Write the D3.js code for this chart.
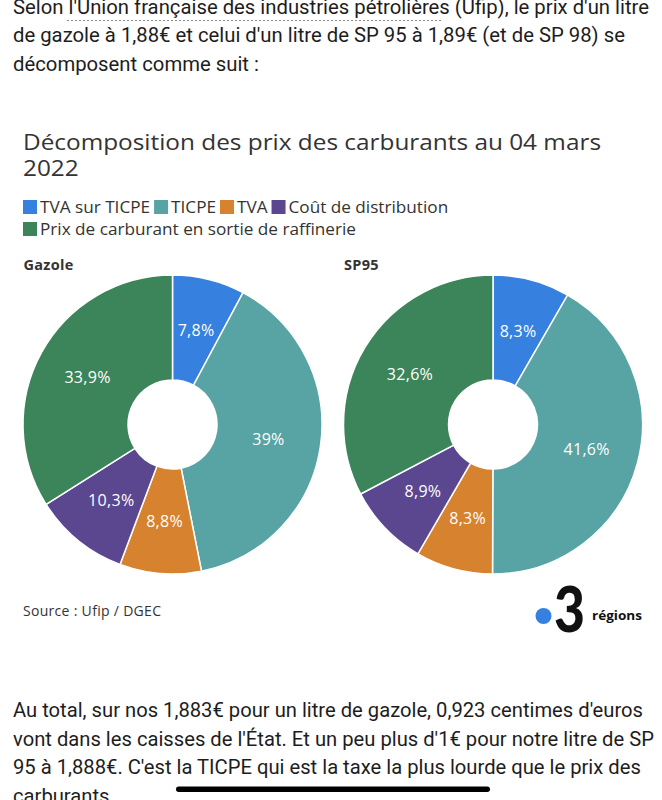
<!DOCTYPE html>
<html>
<head>
<meta charset="utf-8">
<script src="https://cdn.jsdelivr.net/npm/d3@7"></script>
<style>
  html, body { margin: 0; padding: 0; background: #fff; }
  svg { display: block; }
</style>
</head>
<body>
<svg id="chart" width="662" height="800"></svg>
<script>
// ---- Data ----
const categories = ["TVA sur TICPE", "TICPE", "TVA", "Coût de distribution", "Prix de carburant en sortie de raffinerie"];
const colors = ["#3680df", "#58a3a3", "#d6822e", "#5b4690", "#3c8459"];
const chartNames = ["Gazole", "SP95"];
const gazoleValues = [7.8, 39, 8.8, 10.3, 33.9];
const sp95Values = [8.3, 41.6, 8.3, 8.9, 32.6];
const seriesValues = [gazoleValues, sp95Values];

const title1 = "Décomposition des prix des carburants au 04 mars";
const title2 = "2022";
const sourceText = "Source : Ufip / DGEC";
const topLines = [
  "Selon l'Union française des industries pétrolières (Ufip), le prix d'un litre",
  "de gazole à 1,88€ et celui d'un litre de SP 95 à 1,89€ (et de SP 98) se",
  "décomposent comme suit :"
];
const bottomLines = [
  "Au total, sur nos 1,883€ pour un litre de gazole, 0,923 centimes d'euros",
  "vont dans les caisses de l'État. Et un peu plus d'1€ pour notre litre de SP",
  "95 à 1,888€. C'est la TICPE qui est la taxe la plus lourde que le prix des",
  "carburants."
];

// ---- Drawing ----
const svg = d3.select("#chart");
svg.append("rect").attr("width", 662).attr("height", 800).attr("fill", "#fff");

const bodyFont = "Roboto, 'Liberation Sans', Arial, sans-serif";
const chartFont = "'Open Sans', 'Noto Sans', sans-serif";

// article text: same scaling for every line of a paragraph, fitted on its first line
function paragraph(lines, x0, y0, step, firstWidth) {
  const nodes = lines.map((t, i) => svg.append("text").attr("x", x0).attr("y", y0 + i * step)
    .attr("font-family", bodyFont).attr("font-size", 19.5).attr("fill", "#1d1d1d").text(t));
  const k = firstWidth / nodes[0].node().getComputedTextLength();
  nodes.forEach(n => {
    n.attr("textLength", n.node().getComputedTextLength() * k).attr("lengthAdjust", "spacingAndGlyphs");
  });
}
paragraph(topLines, 13, 13.5, 28.7, 636);
svg.append("line").attr("x1", 67).attr("x2", 443).attr("y1", 20.5).attr("y2", 20.5)
  .attr("stroke", "#8a8a8a").attr("stroke-width", 1).attr("stroke-dasharray", "2,2");
paragraph(bottomLines, 13, 717, 28.6, 630);

// title
const t1 = svg.append("text").attr("x", 23).attr("y", 150)
  .attr("font-family", chartFont).attr("font-size", 22.5).attr("fill", "#333")
  .text(title1);
const tk = 578 / t1.node().getComputedTextLength();
t1.attr("textLength", 578).attr("lengthAdjust", "spacingAndGlyphs");
const t2 = svg.append("text").attr("x", 23).attr("y", 175.5)
  .attr("font-family", chartFont).attr("font-size", 22.5).attr("fill", "#333")
  .text(title2);
t2.attr("textLength", t2.node().getComputedTextLength() * tk).attr("lengthAdjust", "spacingAndGlyphs");

// legend
const legendRows = [[0, 1, 2, 3], [4]];
const probe = svg.append("text").attr("font-family", chartFont).attr("font-size", 16).text(categories[4]);
const lk = 316 / probe.node().getComputedTextLength();
probe.remove();
legendRows.forEach((row, r) => {
  let x = 23;
  const y = 200 + r * 22;
  row.forEach(idx => {
    svg.append("rect").attr("x", x).attr("y", y).attr("width", 14).attr("height", 14)
      .attr("fill", colors[idx]);
    const t = svg.append("text").attr("x", x + 17).attr("y", y + 12.5)
      .attr("font-family", chartFont).attr("font-size", 16).attr("fill", "#333")
      .text(categories[idx]);
    const w = t.node().getComputedTextLength() * lk;
    t.attr("textLength", w).attr("lengthAdjust", "spacingAndGlyphs");
    x += 17 + w + 4;
  });
});

// donuts
const pie = d3.pie().sort(null).value(d => d);
const outerR = 149.5, innerR = 44.5;
const arc = d3.arc().innerRadius(innerR).outerRadius(outerR);
const centersX = [172.5, 493];
const centerY = 424.5;
const fmt = v => String(v).replace(".", ",") + "%";

seriesValues.forEach((vals, si) => {
  svg.append("text").attr("x", centersX[si] - 149).attr("y", 270)
    .attr("font-family", chartFont).attr("font-size", 14.5).attr("font-weight", 700)
    .attr("letter-spacing", 0.3)
    .attr("fill", "#333").text(chartNames[si]);
  const g = svg.append("g").attr("transform", `translate(${centersX[si]},${centerY})`);
  const arcs = pie(vals);
  g.selectAll("path").data(arcs).join("path")
    .attr("d", arc)
    .attr("fill", (d, i) => colors[i])
    .attr("stroke", "#fff").attr("stroke-width", 1.5);
  g.selectAll("text").data(arcs).join("text")
    .attr("transform", d => `translate(${arc.centroid(d)})`)
    .attr("text-anchor", "middle").attr("dy", "0.36em")
    .attr("font-family", chartFont).attr("font-size", 16).attr("fill", "#fff")
    .attr("letter-spacing", 0.3)
    .text(d => fmt(d.data));
});

// source
svg.append("text").attr("x", 23).attr("y", 616)
  .attr("font-family", chartFont).attr("font-size", 14).attr("fill", "#333")
  .attr("letter-spacing", 0.3)
  .text(sourceText);

// logo
svg.append("circle").attr("cx", 543.5).attr("cy", 616).attr("r", 8).attr("fill", "#3680df");
svg.append("text").attr("x", 554).attr("y", 632)
  .attr("font-family", "Lato, sans-serif").attr("font-size", 62).attr("font-weight", 900)
  .attr("fill", "#111").attr("textLength", 31).attr("lengthAdjust", "spacingAndGlyphs")
  .text("3");
svg.append("text").attr("x", 592).attr("y", 620)
  .attr("font-family", chartFont).attr("font-size", 13).attr("font-weight", 700)
  .attr("fill", "#111").attr("textLength", 50).attr("lengthAdjust", "spacingAndGlyphs")
  .text("régions");

// home indicator
svg.append("rect").attr("x", 176).attr("y", 786.5).attr("width", 314).attr("height", 5.5)
  .attr("rx", 2.75).attr("fill", "#000");
</script>
</body>
</html>
